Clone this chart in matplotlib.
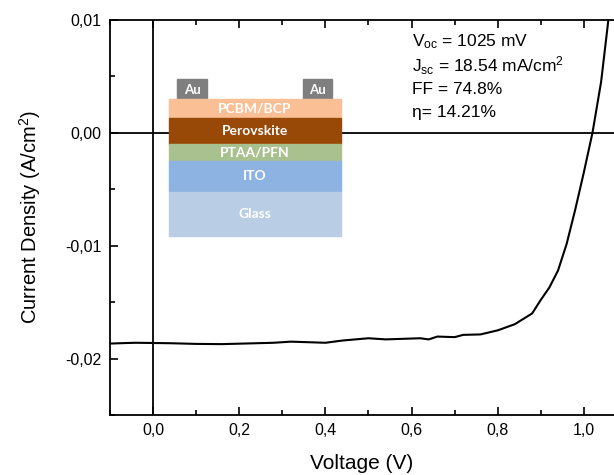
import matplotlib
matplotlib.use("Agg")
import matplotlib.pyplot as plt
from matplotlib.patches import Rectangle
from matplotlib.ticker import MultipleLocator, FuncFormatter

plt.rcParams["font.family"] = ["Liberation Sans", "DejaVu Sans"]
plt.rcParams["mathtext.fontset"] = "custom"
plt.rcParams["mathtext.rm"] = "Liberation Sans"
plt.rcParams["mathtext.it"] = "Liberation Sans:italic"

# J-V curve, voltage in V, current density in mA/cm2
voltage = [-0.1, -0.06, -0.04, 0.0, 0.04, 0.1, 0.16, 0.22, 0.28, 0.32, 0.36,
           0.4, 0.44, 0.5, 0.54, 0.58, 0.62, 0.64, 0.66, 0.7, 0.72, 0.76,
           0.8, 0.84, 0.88, 0.9, 0.92, 0.94, 0.96, 0.98, 1.0, 1.02, 1.04,
           1.06]
current_ma = [-18.67, -18.62, -18.6, -18.62, -18.64, -18.7, -18.72, -18.66,
              -18.6, -18.5, -18.55, -18.6, -18.4, -18.2, -18.3, -18.25, -18.2,
              -18.3, -18.05, -18.1, -17.9, -17.86, -17.5, -16.95, -16.0,
              -14.8, -13.7, -12.2, -9.85, -6.8, -3.5, 0.0, 4.5, 11.0]

params = ["V$_{\\rm oc}$ = 1025 mV", "J$_{\\rm sc}$ = 18.54 mA/cm$^2$",
          "FF = 74.8%", "\u03b7= 14.21%"]

# device stack inset
layers = ["PCBM/BCP", "Perovskite", "PTAA/PFN", "ITO", "Glass"]
layer_colors = ["#fabf95", "#984807", "#a9c08f", "#8db3e2", "#b9cde4"]
layer_heights = [19, 26, 17, 31, 44]
stack_font = ["Lato", "DejaVu Sans"]

fig = plt.figure(figsize=(6.14, 4.75), dpi=100)
ax = fig.add_axes([110 / 614, 60 / 475, 1 - 110 / 614, 395 / 475])

current = [j / 1000 for j in current_ma]
ax.plot(voltage, current, color="black", lw=1.5)
ax.axhline(0, color="black", lw=1.3)
ax.axvline(0, color="black", lw=1.3)

ax.set_xlim(-0.1, 1.07)
ax.set_ylim(-0.025, 0.01)
ax.xaxis.set_major_locator(MultipleLocator(0.2))
ax.xaxis.set_minor_locator(MultipleLocator(0.1))
ax.yaxis.set_major_locator(MultipleLocator(0.01))
ax.yaxis.set_minor_locator(MultipleLocator(0.005))
ax.xaxis.set_major_formatter(FuncFormatter(lambda v, p: f"{v:.1f}".replace(".", ",")))
ax.yaxis.set_major_formatter(FuncFormatter(lambda v, p: f"{v:.2f}".replace(".", ",")))
ax.tick_params(which="both", direction="in", top=True, right=False,
               labelsize=11.5, width=1.2, pad=6)
ax.tick_params(which="major", length=6)
ax.tick_params(which="minor", length=3.5)
ax.spines["right"].set_visible(False)
for s in ["left", "top", "bottom"]:
    ax.spines[s].set_linewidth(1.3)

ax.set_xlabel("Voltage (V)", fontsize=15, labelpad=11)
ax.set_ylabel("Current Density (A/cm$^2$)", fontsize=14.5, labelpad=16)

for i, t in enumerate(params):
    fig.text(412 / 614, 1 - (42 + 23.5 * i) / 475, t, fontsize=12.5,
             va="center", ha="left")

# inset drawn in pixel units
ins = fig.add_axes([165 / 614, 1 - 240 / 475, 180 / 614, 165 / 475])
ins.set_xlim(165, 345)
ins.set_ylim(240, 75)
ins.axis("off")
for xa, wa in [(177, 30), (303, 29)]:
    ins.add_patch(Rectangle((xa, 79), wa, 20, color="#7f7f7f"))
    ins.text(xa + wa / 2, 89.5, "Au", color="white", ha="center", va="center",
             fontsize=9.5, family=stack_font, weight="bold")
y0 = 99
for name, col, h in zip(layers, layer_colors, layer_heights):
    ins.add_patch(Rectangle((169, y0), 172, h, color=col))
    ins.text(255, y0 + h / 2, name, color="white", ha="center", va="center",
             fontsize=10, family=stack_font, weight="bold")
    y0 += h

fig.savefig("out.png", dpi=100)
